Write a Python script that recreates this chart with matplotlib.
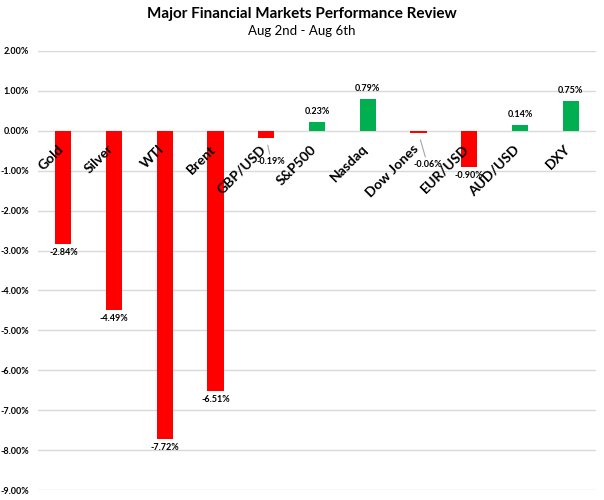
import matplotlib
matplotlib.use("Agg")
import matplotlib.pyplot as plt

categories = ["Gold", "Silver", "WTI", "Brent", "GBP/USD", "S&P500", "Nasdaq",
              "Dow Jones", "EUR/USD", "AUD/USD", "DXY"]
values = [-2.84, -4.49, -7.72, -6.51, -0.19, 0.23, 0.79, -0.06, -0.90, 0.14, 0.75]
yticks = [2, 1, 0, -1, -2, -3, -4, -5, -6, -7, -8, -9]

FONT = "Lato"
PX = 72 / 100  # points per pixel
fig = plt.figure(figsize=(6.04, 5.0), dpi=100)
ax = fig.add_axes([38/604, 1-490/500, (596-38)/604, (490-51)/500])
colors = ["#00b050" if v > 0 else "#ff0000" for v in values]
x = list(range(len(categories)))
ax.bar(x, values, width=0.32, color=colors, zorder=3)
ax.set_xlim(-0.5, len(categories)-0.5)
ax.set_ylim(-9, 2)
ax.set_yticks(yticks)
ax.set_yticklabels([f"{t:.2f}%" for t in yticks], fontsize=6.5, fontweight="bold", family=FONT)
ax.tick_params(axis="y", length=0, pad=9*PX)
ax.set_xticks([])
ax.grid(axis="y", color="#d9d9d9", linewidth=1, zorder=0)
for s in ax.spines.values():
    s.set_visible(False)

# category labels rotated
for i, c in enumerate(categories):
    ax.annotate(c, xy=(i, 0), xytext=(2*PX, -12*PX), textcoords="offset points",
                rotation=45, ha="right", va="top", fontsize=10, fontweight="bold",
                family=FONT, zorder=4)

# data labels
leader = {4: (5, -23), 7: (9, -31)}
for i, v in enumerate(values):
    lab = f"{v:.2f}%"
    if i in leader:
        dx, dy = leader[i]
        ax.annotate(lab, xy=(i, v), xytext=(dx*PX, dy*PX), textcoords="offset points",
                    ha="center", va="center", fontsize=6.5, fontweight="bold", family=FONT,
                    arrowprops=dict(arrowstyle="-", color="#a6a6a6", lw=0.8,
                                    shrinkA=0, shrinkB=5), zorder=5)
    elif v < 0:
        ax.annotate(lab, xy=(i, v), xytext=(0, -4*PX), textcoords="offset points",
                    ha="center", va="top", fontsize=6.5, fontweight="bold", family=FONT)
    else:
        ax.annotate(lab, xy=(i, v), xytext=(0, 6*PX), textcoords="offset points",
                    ha="center", va="bottom", fontsize=6.5, fontweight="bold", family=FONT)

fig.text(0.5, 1-14/500, "Major Financial Markets Performance Review", ha="center", va="center",
         fontsize=11, fontweight="bold", family=FONT)
fig.text(0.5, 1-31/500, "Aug 2nd - Aug 6th", ha="center", va="center", fontsize=9.5, family=FONT)

fig.savefig("out.png", dpi=100)
